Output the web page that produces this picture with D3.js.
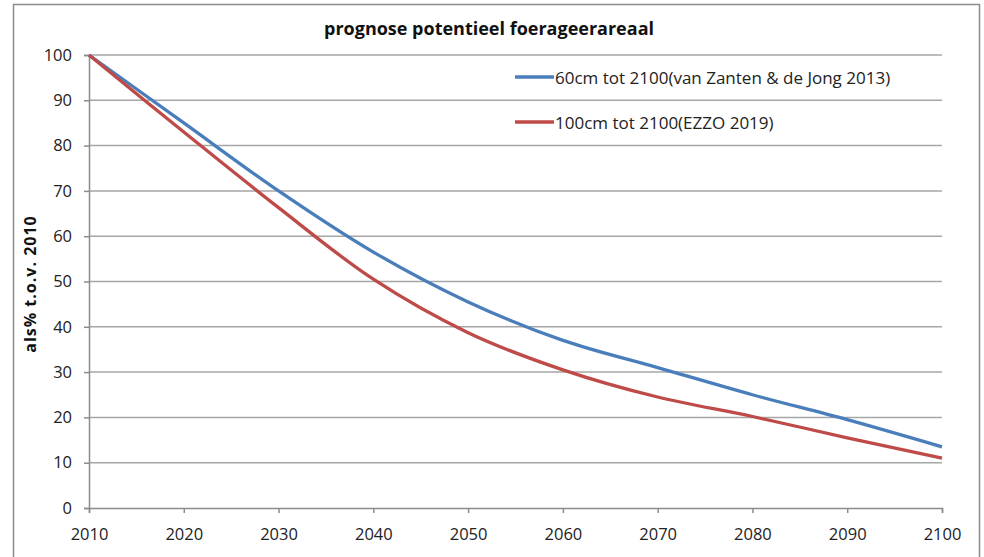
<!DOCTYPE html>
<html>
<head>
<meta charset="utf-8">
<script src="https://cdn.jsdelivr.net/npm/d3@7"></script>
<style>
  body { margin: 0; background: #fff; }
  svg { display: block; font-family: "Open Sans", "Liberation Sans", Arial, sans-serif; }
</style>
</head>
<body>
<svg id="chart" width="984" height="557"></svg>
<script>
var years = [2010, 2020, 2030, 2040, 2050, 2060, 2070, 2080, 2090, 2100];
var blue60 = [100, 85, 70, 56.5, 45.5, 37, 31, 25, 19.5, 13.5];
var red100 = [100, 83, 66.3, 50.5, 38.7, 30.5, 24.5, 20.2, 15.5, 11];
var seriesNames = ["60cm tot 2100(van Zanten & de Jong 2013)", "100cm tot 2100(EZZO 2019)"];
var seriesColors = ["#4a7ebb", "#be4b48"];
var yTicks = [0, 10, 20, 30, 40, 50, 60, 70, 80, 90, 100];

var svg = d3.select("#chart");
var margin = { left: 89, right: 42, top: 55, bottom: 49 };
var W = 984, H = 557;

// outer frame
svg.append("rect")
  .attr("x", 13.5).attr("y", 4.5)
  .attr("width", 966).attr("height", 560)
  .attr("fill", "#fff")
  .attr("stroke", "#8c8c8c")
  .attr("stroke-width", 1.5);

var x = d3.scaleLinear().domain([2010, 2100]).range([margin.left, W - margin.right]);
var y = d3.scaleLinear().domain([0, 100]).range([H - margin.bottom, margin.top]);

// gridlines
svg.append("g")
  .selectAll("line")
  .data(yTicks.filter(function(d) { return d > 0; }))
  .enter()
  .append("line")
  .attr("x1", margin.left).attr("x2", W - margin.right)
  .attr("y1", function(d) { return y(d); })
  .attr("y2", function(d) { return y(d); })
  .attr("stroke", "#a6a6a6")
  .attr("stroke-width", 1.5);

// y axis
var yAxis = svg.append("g")
  .attr("transform", "translate(" + margin.left + ",0)")
  .call(d3.axisLeft(y).tickValues(yTicks).tickSize(5).tickPadding(12));
// x axis
var xAxis = svg.append("g")
  .attr("transform", "translate(0," + y(0) + ")")
  .call(d3.axisBottom(x).tickValues(years).tickFormat(d3.format("d")).tickSize(5).tickPadding(15));

[yAxis, xAxis].forEach(function(a) {
  a.select(".domain").attr("stroke", "#8c8c8c").attr("stroke-width", 1.5);
  a.selectAll(".tick line").attr("stroke", "#8c8c8c").attr("stroke-width", 1.5);
  a.selectAll("text")
    .attr("font-family", "Open Sans")
    .attr("font-size", 16.5)
    .attr("fill", "#222");
});

// lines
var line = d3.line()
  .x(function(d) { return x(d[0]); })
  .y(function(d) { return y(d[1]); })
  .curve(d3.curveCatmullRom);

[blue60, red100].forEach(function(vals, i) {
  svg.append("path")
    .datum(years.map(function(yr, j) { return [yr, vals[j]]; }))
    .attr("d", line)
    .attr("fill", "none")
    .attr("stroke", seriesColors[i])
    .attr("stroke-width", 3.3);
});

// title
svg.append("text")
  .attr("x", 489).attr("y", 35)
  .attr("text-anchor", "middle")
  .attr("font-size", 18)
  .attr("font-weight", "bold")
  .attr("fill", "#111")
  .text("prognose potentieel foerageerareaal");

// y label
svg.append("text")
  .attr("transform", "translate(36,284) rotate(-90)")
  .attr("text-anchor", "middle")
  .attr("font-size", 16)
  .attr("font-weight", "bold")
  .attr("letter-spacing", 1)
  .attr("fill", "#111")
  .text("als% t.o.v. 2010");

// legend
var legend = svg.append("g");
seriesNames.forEach(function(name, i) {
  var ly = 77 + i * 45;
  legend.append("line")
    .attr("x1", 515).attr("x2", 554)
    .attr("y1", ly).attr("y2", ly)
    .attr("stroke", seriesColors[i])
    .attr("stroke-width", 3.3);
  legend.append("text")
    .attr("x", 555).attr("y", ly + 7)
    .attr("font-size", 17)
    .attr("fill", "#222")
    .text(name);
});
</script>
</body>
</html>
